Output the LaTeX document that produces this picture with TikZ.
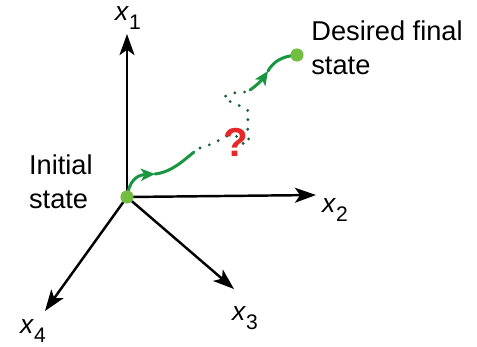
\documentclass[tikz,border=0pt]{standalone}
\usepackage{fontspec}
\setmainfont{Liberation Sans}
\usepackage{xcolor}
\usetikzlibrary{arrows.meta,positioning,calc}

\definecolor{pathgreen}{RGB}{25,150,65}
\definecolor{dotgreen}{RGB}{25,95,60}
\definecolor{statefill}{RGB}{115,190,65}
\definecolor{qred}{RGB}{230,40,40}

\tikzset{
  axis/.style={black, line width=1.4pt, -{Stealth[length=12pt, width=8.5pt, inset=3pt]}},
  solidpath/.style={pathgreen, line width=1.7pt, line cap=round},
  lostpath/.style={dotgreen, line width=1.8pt, line cap=round, dash pattern=on 0pt off 5.6pt},
  statedot/.style={circle, fill=statefill, minimum size=7.5pt, inner sep=0pt},
  axlabel/.style={inner sep=0pt, font=\fontsize{15}{15}\selectfont},
  textlabel/.style={inner sep=0pt, align=left, font=\fontsize{15.5}{19.5}\selectfont}
}
\newcommand{\axname}[1]{\textit{x}\raisebox{-5pt}{\fontsize{12}{12}\selectfont #1}}

\begin{document}
\begin{tikzpicture}[x=0.02cm, y=-0.02cm]
\useasboundingbox (0,0) rectangle (477,346);

% axes
\coordinate (o) at (127,197);
\coordinate (f) at (297,55);
\coordinate (t1) at (127,34);
\coordinate (t2) at (316,195);
\coordinate (t3) at (234,289);
\coordinate (t4) at (45,311);
\draw[axis] (o) -- (t1);
\draw[axis] (o) -- (t2);
\draw[axis] (o) -- (t3);
\draw[axis] (o) -- (t4);
\node[axlabel] (l1) at (128,18) {\axname{1}};
\node[axlabel] (l2) at (335,210) {\axname{2}};
\node[axlabel] (l3) at (245,318) {\axname{3}};
\node[axlabel] (l4) at (33,331) {\axname{4}};

% trajectory
\coordinate (a1) at (155,174);
\coordinate (e1) at (194,152);
\coordinate (s2) at (250,90);
\coordinate (a2) at (268,71);
\draw[solidpath, -{Stealth[length=8pt, width=7pt, inset=2pt]}] (o) .. controls (129,182) and (136,175) .. (a1);
\draw[solidpath] (a1) .. controls (172,172) and (184,160) .. (e1);
\draw[lostpath] plot[smooth, tension=0.6] coordinates {(200,148) (214,143) (227,136) (238,137) (245,145) (249,137) (247,124) (249,112) (238,105) (224,98) (234,93) (246,92)};
\draw[solidpath, -{Stealth[length=8pt, width=7pt, inset=2pt]}] (s2) .. controls (256,86) and (262,80) .. (a2);
\draw[solidpath] (a2) .. controls (273,62) and (282,56) .. (f);

% states
\node[statedot] (init) at (o) {};
\node[statedot] (final) at (f) {};
\node[textlabel, anchor=east] (inittxt) at (93,182) {Initial\\state};
\node[textlabel, anchor=north west] (finaltxt) at (311,20) {Desired final\\state};

% question mark
\node[qred, inner sep=0pt, font=\bfseries\fontsize{23}{23}\selectfont] (q) at (236,142) {?};
\end{tikzpicture}
\end{document}
